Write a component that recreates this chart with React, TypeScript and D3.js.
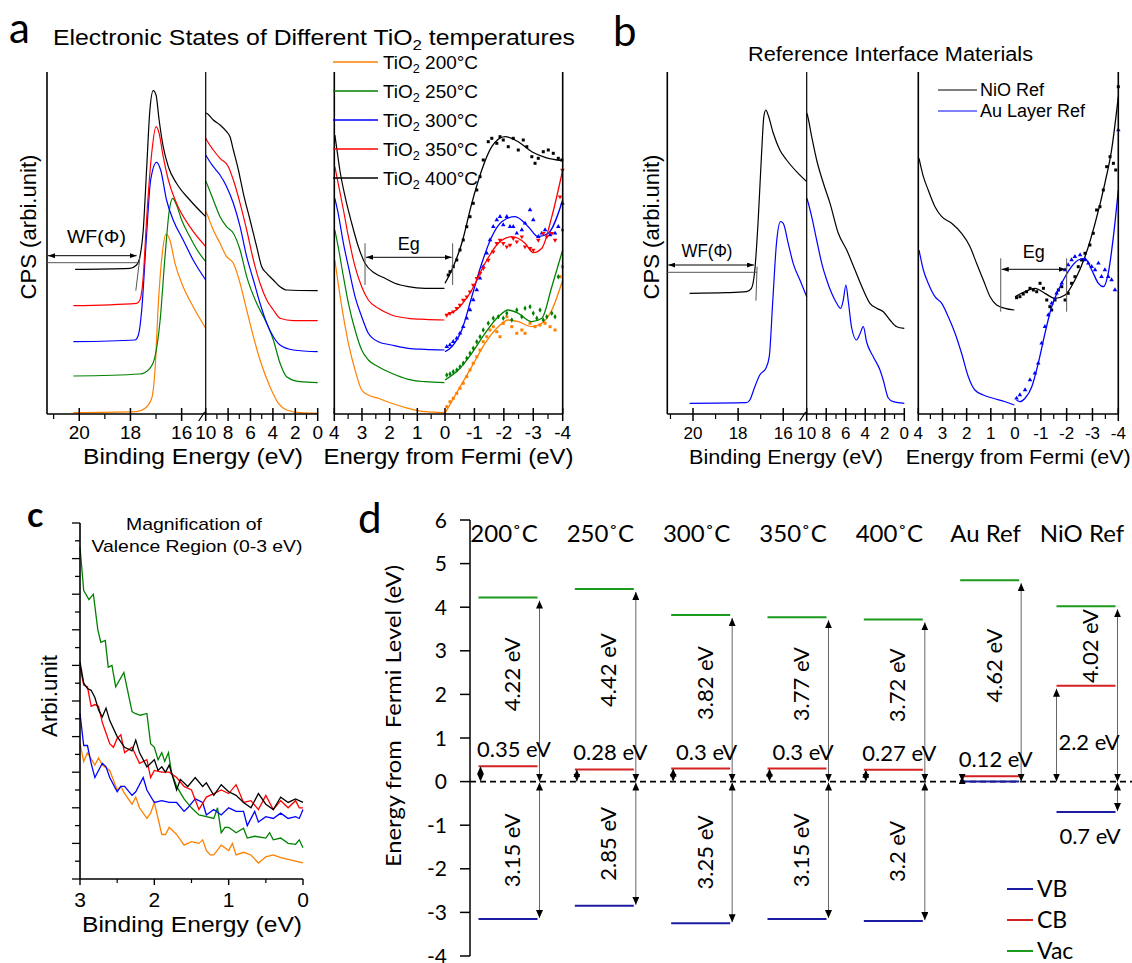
import React from 'react';
import * as d3 from 'd3';

type P = [number, number];

const SANS = '"Liberation Sans", Arial, Helvetica, sans-serif';
const CAL = 'Lato, "Noto Sans", sans-serif';

// ---------- panel a : TiO2 spectra (x = eV, y = arbitrary counts) ----------
const tempNames = ['200', '250', '300', '350', '400'];
const tempColors = ['#ff8000', '#008000', '#0000ff', '#ff0000', '#000000'];

// secondary electron cut-off (binding energy)
const aCut200: P[] = [[20.23, 1.3], [17.76, 2.3], [17.43, 5.7], [17.17, 15.7], [17.04, 44], [16.91, 110.7], [16.74, 164], [16.61, 180], [16.46, 174], [16.26, 150.7], [15.94, 127.3], [15.55, 107.3], [15.06, 85.7]];
const aCut250: P[] = [[20.23, 38], [17.63, 40], [17.24, 45.7], [17.04, 57.3], [16.84, 94], [16.65, 157.3], [16.48, 204], [16.35, 215.7], [16.2, 209], [16.0, 194], [15.68, 177.3], [15.35, 162.3], [15.06, 152.3]];
const aCut300: P[] = [[20.23, 72.3], [17.82, 74], [17.69, 79], [17.56, 104], [17.39, 170.7], [17.21, 234], [16.98, 251.7], [16.82, 244], [16.59, 214], [16.33, 194], [15.94, 174], [15.55, 154], [15.06, 134]];
const aCut350: P[] = [[20.23, 108.3], [17.76, 110.7], [17.63, 114], [17.5, 137.3], [17.37, 194], [17.17, 260.7], [17.0, 287.3], [16.88, 280.7], [16.72, 257.3], [16.52, 234], [16.2, 210.7], [15.68, 187.3], [15.06, 167.3]];
const aCut400: P[] = [[20.16, 144.7], [18.02, 145.7], [17.76, 149], [17.63, 157.3], [17.5, 184], [17.37, 244], [17.24, 304], [17.11, 323.3], [17.0, 319], [16.88, 294], [16.72, 267.3], [16.52, 247.3], [16.2, 230.7], [15.68, 214], [15.06, 197.3]];

// valence band 10-0 eV
const aVal200: P[] = [[10, 203], [9.91, 200.7], [9.32, 184], [8.72, 170.7], [8.13, 157.3], [7.53, 150.7], [6.93, 130.7], [6.34, 104], [5.74, 77.3], [5.15, 54], [4.26, 27.3], [3.51, 10.7], [2.77, 4], [1.58, 1.3], [0, 0.7]];
const aVal250: P[] = [[10, 233], [9.91, 230.7], [9.32, 214], [8.72, 197.3], [8.13, 187.3], [7.53, 180.7], [6.93, 164], [6.34, 137.3], [5.45, 110.7], [4.55, 90.7], [3.96, 74], [3.36, 50.7], [2.77, 37.3], [1.58, 32.3], [0, 31.3]];
const aVal300: P[] = [[10, 259], [9.91, 257.3], [9.32, 247.3], [8.72, 239], [8.13, 227.3], [7.53, 210.7], [6.93, 187.3], [6.34, 157.3], [5.74, 134], [5.15, 110.7], [4.55, 90.7], [3.96, 77.3], [3.36, 69], [2.17, 64], [0, 62.3]];
const aVal350: P[] = [[10, 276], [9.91, 274], [9.32, 264], [8.72, 255.7], [7.98, 247.3], [7.53, 234], [6.93, 210.7], [6.34, 184], [5.74, 154], [5.15, 130.7], [4.55, 114], [3.96, 104], [3.36, 95.7], [2.17, 93.3], [0, 93.3]];
const aVal400: P[] = [[10, 301], [9.91, 300.7], [9.32, 294], [8.72, 289], [8.13, 282.3], [7.83, 277.3], [7.53, 264], [7.08, 244], [6.64, 220.7], [6.04, 194], [5.45, 167.3], [5.0, 147.3], [4.55, 140.7], [3.96, 134], [3.36, 127.3], [2.77, 124], [0, 123.3]];

// energy from Fermi, valence side (4 -> 0)
const aVb200: P[] = [[3.98, 154], [3.86, 130.7], [3.67, 97.3], [3.49, 70.7], [3.25, 44], [3.01, 24], [2.77, 19], [2.41, 15.7], [1.93, 10.7], [1.33, 5.7], [0.72, 2.3], [0.02, 1.3]];
const aVb250: P[] = [[3.98, 184], [3.86, 167.3], [3.67, 137.3], [3.49, 110.7], [3.25, 84], [3.01, 64], [2.77, 54], [2.41, 47.3], [1.93, 40.7], [1.33, 34.7], [0.72, 32.3], [0.02, 31.3]];
const aVb300: P[] = [[3.98, 215.7], [3.86, 200.7], [3.67, 170.7], [3.49, 147.3], [3.25, 117.3], [3.01, 97.3], [2.77, 80.7], [2.41, 72.3], [1.93, 69], [1.33, 65.7], [0.72, 64.7], [0.02, 64]];
const aVb350: P[] = [[3.98, 247.3], [3.86, 230.7], [3.67, 204], [3.49, 177.3], [3.25, 147.3], [3.01, 127.3], [2.77, 114], [2.41, 105.7], [1.93, 99], [1.33, 95.7], [0.72, 94.7], [0.02, 94]];
const aVb400: P[] = [[3.98, 279], [3.92, 267.3], [3.8, 244], [3.61, 217.3], [3.37, 190.7], [3.13, 167.3], [2.89, 150.7], [2.53, 140.7], [2.17, 135.7], [1.81, 130.7], [1.33, 127.3], [0.72, 125.7], [0.02, 125.7]];

// conduction side fits (0 -> -4)
const aFit200: P[] = [[0, 0.7], [-0.45, 24], [-0.91, 47.3], [-1.36, 70.7], [-1.81, 87.3], [-2.15, 94], [-2.49, 92.3], [-2.95, 87.3], [-3.29, 90.7], [-3.63, 104], [-4, 134]];
const aFit250: P[] = [[0, 34], [-0.45, 44], [-0.91, 60.7], [-1.36, 80.7], [-1.81, 97.3], [-2.15, 104], [-2.49, 100.7], [-2.95, 92.3], [-3.29, 95.7], [-3.63, 127.3], [-4, 164]];
const aFit300: P[] = [[0, 62.3], [-0.23, 67.3], [-0.57, 84], [-0.91, 117.3], [-1.25, 150.7], [-1.59, 177.3], [-1.93, 192.3], [-2.38, 197.3], [-2.83, 187.3], [-3.17, 177.3], [-3.51, 180.7], [-4, 214]];
const aFit350: P[] = [[0, 99], [-0.45, 105.7], [-0.91, 124], [-1.36, 150.7], [-1.81, 170.7], [-2.27, 177.3], [-2.72, 170.7], [-3.0, 161.3], [-3.29, 165.7], [-3.63, 197.3], [-4, 244]];
const aFit400: P[] = [[0, 130.7], [-0.23, 144], [-0.57, 170.7], [-0.91, 210.7], [-1.25, 244], [-1.59, 267.3], [-2.04, 277.3], [-2.49, 272.3], [-2.95, 262.3], [-3.4, 256.7], [-4, 253.3]];

// measured points on the conduction side
const aDots200: P[] = [[-0.06, 7.3], [-0.17, 12.3], [-0.28, 15.7], [-0.4, 20.7], [-0.51, 25.7], [-0.62, 30.7], [-0.74, 37.3], [-0.85, 44], [-0.96, 50.7], [-1.08, 57.3], [-1.19, 64], [-1.3, 72.3], [-1.42, 77.3], [-1.53, 84], [-1.64, 87.3], [-1.76, 82.3], [-1.87, 77.3], [-1.98, 90.7], [-2.1, 97.3], [-2.27, 87.3], [-2.44, 80.7], [-2.61, 84], [-2.72, 80.7], [-2.89, 90.7], [-3.06, 87.3], [-3.23, 89], [-3.4, 90.7], [-3.57, 87.3], [-3.74, 84], [-3.91, 137.3], [-3.99, 147.3]];
const aDots250: P[] = [[-0.06, 39], [-0.17, 40], [-0.28, 42.3], [-0.4, 44], [-0.51, 47.3], [-0.62, 50.7], [-0.74, 55.7], [-0.85, 60.7], [-0.96, 65.7], [-1.08, 72.3], [-1.19, 77.3], [-1.3, 84], [-1.47, 90.7], [-1.64, 95.7], [-1.81, 97.3], [-1.98, 95.7], [-2.1, 100.7], [-2.27, 94], [-2.44, 104], [-2.61, 97.3], [-2.72, 105.7], [-2.89, 107.3], [-3.0, 100.7], [-3.12, 95.7], [-3.23, 104], [-3.34, 94], [-3.46, 97.3], [-3.63, 100.7], [-3.74, 97.3], [-3.85, 137.3], [-3.99, 184]];
const aDots300: P[] = [[-0.06, 67.3], [-0.17, 69], [-0.28, 72.3], [-0.4, 75.7], [-0.51, 80.7], [-0.62, 87.3], [-0.74, 95.7], [-0.85, 104], [-0.96, 114], [-1.08, 124], [-1.19, 135.7], [-1.3, 147.3], [-1.42, 160.7], [-1.53, 174], [-1.64, 187.3], [-1.76, 194], [-1.87, 197.3], [-1.98, 189], [-2.1, 197.3], [-2.21, 187.3], [-2.32, 187.3], [-2.44, 180.7], [-2.61, 184], [-2.72, 190.7], [-2.89, 204], [-3.0, 194], [-3.17, 177.3], [-3.29, 180.7], [-3.4, 184], [-3.57, 179], [-3.74, 180.7], [-3.85, 187.3], [-3.99, 210.7]];
const aDots350: P[] = [[-0.06, 99], [-0.17, 100.7], [-0.28, 102.3], [-0.4, 105.7], [-0.51, 109], [-0.62, 114], [-0.74, 117.3], [-0.85, 122.3], [-0.96, 129], [-1.08, 135.7], [-1.19, 140.7], [-1.3, 145.7], [-1.47, 154], [-1.64, 162.3], [-1.76, 170.7], [-1.87, 174], [-1.98, 170.7], [-2.1, 167.3], [-2.21, 169], [-2.32, 175.7], [-2.44, 172.3], [-2.61, 177.3], [-2.72, 167.3], [-2.89, 165.7], [-3.0, 164], [-3.17, 174], [-3.34, 180.7], [-3.46, 177.3], [-3.63, 180.7], [-3.74, 174], [-3.91, 217.3], [-3.99, 244]];
const aDots400: P[] = [[-0.11, 139], [-0.17, 142.3], [-0.28, 147.3], [-0.4, 154], [-0.51, 164], [-0.62, 174], [-0.74, 187.3], [-0.85, 197.3], [-0.96, 210.7], [-1.08, 224], [-1.19, 237.3], [-1.3, 254], [-1.47, 272.3], [-1.59, 275.7], [-1.76, 270.7], [-1.87, 277.3], [-1.98, 274], [-2.15, 267.3], [-2.32, 275.7], [-2.49, 264], [-2.66, 274], [-2.78, 267.3], [-2.95, 257.3], [-3.06, 250.7], [-3.17, 255.7], [-3.34, 262.3], [-3.51, 264], [-3.68, 260.7], [-3.85, 255.7], [-3.97, 254]];

// ---------- panel b : reference materials ----------
const refNames = ['NiO Ref', 'Au Layer Ref'];
const refColors = ['#000000', '#0000ff'];
const bCutNiO: P[] = [[20.15, 120.7], [18.52, 121.3], [17.63, 122.3], [17.41, 125.7], [17.26, 144], [17.11, 194], [16.96, 260.7], [16.86, 297.3], [16.77, 304], [16.67, 299], [16.44, 280.7], [16.15, 264], [15.85, 254], [15.41, 242.3], [14.96, 232.3]];
const bCutAu: P[] = [[20.15, 10.7], [17.63, 11.3], [17.48, 14], [17.26, 27.3], [17.04, 39], [16.77, 45.7], [16.62, 57.3], [16.47, 110.7], [16.3, 170.7], [16.12, 192.3], [16.0, 190.7], [15.78, 170.7], [15.56, 150.7], [15.26, 134], [14.96, 117.3]];
const bValNiO: P[] = [[10, 301], [9.93, 299], [9.49, 277.3], [8.98, 254], [8.29, 230.7], [7.61, 210.7], [6.76, 180.7], [5.9, 164], [5.05, 144], [4.2, 124], [3.52, 110.7], [2.83, 105.7], [2.15, 102.3], [1.47, 94], [0.78, 87.3], [0, 85.7]];
const bValAu: P[] = [[10, 216], [9.93, 214], [9.49, 197.3], [8.98, 174], [8.46, 150.7], [7.95, 134], [7.44, 120.7], [6.93, 110.7], [6.52, 105.7], [6.25, 114], [5.98, 129], [5.73, 112], [5.39, 86], [4.89, 74], [4.55, 80], [4.2, 87.3], [3.86, 72], [3.17, 57], [2.49, 44], [2.16, 34], [1.64, 16], [1.13, 12.3], [0, 10.7]];
const bVbNiO: P[] = [[3.97, 255.7], [3.79, 237.3], [3.59, 224], [3.31, 207.3], [3.03, 197.3], [2.62, 190.7], [2.21, 180.7], [1.86, 167.3], [1.59, 150.7], [1.31, 134], [1.03, 117.3], [0.76, 109], [0.41, 105.7], [0.03, 104]];
const bVbAu: P[] = [[3.97, 164], [3.79, 144], [3.59, 130.7], [3.31, 117.3], [3.03, 110.7], [2.76, 97.3], [2.48, 80.7], [2.21, 60.7], [1.93, 37.3], [1.66, 24], [1.31, 19], [0.9, 15.7], [0.41, 12.3], [0.03, 9]];
const bFitNiO: P[] = [[0, 117.3], [-0.39, 122.3], [-0.77, 125.7], [-1.16, 120.7], [-1.55, 115.7], [-1.94, 119], [-2.32, 134], [-2.71, 157.3], [-3.1, 190.7], [-3.48, 230.7], [-3.74, 264], [-4, 317.3]];
const bFitAu: P[] = [[-0.06, 14], [-0.19, 12.3], [-0.39, 15.7], [-0.65, 27.3], [-0.9, 50.7], [-1.16, 80.7], [-1.42, 107.3], [-1.68, 124], [-1.94, 137.3], [-2.19, 147.3], [-2.45, 154], [-2.71, 155.7], [-2.97, 144], [-3.23, 130.7], [-3.42, 127.3], [-3.61, 140.7], [-3.81, 177.3], [-4, 224]];
const bDotsNiO: P[] = [[-0.06, 116.3], [-0.19, 117.3], [-0.32, 120], [-0.45, 122.3], [-0.58, 125.7], [-0.71, 124], [-0.84, 122.3], [-0.97, 130.7], [-1.1, 125.7], [-1.23, 114], [-1.35, 107.3], [-1.42, 104], [-1.55, 114], [-1.68, 124], [-1.81, 127.3], [-1.94, 114], [-2.06, 120.7], [-2.19, 130.7], [-2.32, 137.3], [-2.45, 147.3], [-2.58, 154], [-2.71, 160.7], [-2.9, 169], [-3.03, 180.7], [-3.16, 204], [-3.29, 207.3], [-3.42, 224], [-3.55, 247.3], [-3.68, 257.3], [-3.81, 250.7], [-3.9, 244], [-4.0, 327.3]];
const bDotsAu: P[] = [[-0.06, 15.7], [-0.19, 19], [-0.39, 24], [-0.58, 34], [-0.77, 40.7], [-0.9, 50.7], [-1.03, 70.7], [-1.16, 87.3], [-1.29, 99], [-1.42, 110.7], [-1.61, 120.7], [-1.81, 130.7], [-1.94, 144], [-2.06, 149], [-2.19, 154], [-2.32, 157.3], [-2.52, 159], [-2.71, 154], [-2.84, 150.7], [-2.97, 147.3], [-3.1, 144], [-3.23, 150.7], [-3.35, 137.3], [-3.48, 144], [-3.61, 137.3], [-3.74, 134], [-3.87, 124], [-4.0, 284]];

// ---------- panel c : valence region 0-3 eV ----------
const c200: P[] = [[3, 7.6], [2.95, 6.6], [2.9, 7.1], [2.8, 6.4], [2.75, 6.8], [2.7, 6.4], [2.6, 6.1], [2.5, 5.0], [2.45, 5.2], [2.4, 4.8], [2.3, 4.2], [2.25, 4.6], [2.2, 4.0], [2.1, 3.4], [2.05, 3.7], [2.0, 4.3], [1.9, 2.5], [1.85, 2.5], [1.8, 2.9], [1.7, 2.5], [1.6, 1.9], [1.5, 2.1], [1.4, 2.0], [1.35, 2.2], [1.3, 1.6], [1.25, 1.35], [1.2, 1.35], [1.1, 1.9], [1.0, 1.6], [0.95, 2.0], [0.9, 1.35], [0.8, 1.5], [0.7, 1.35], [0.6, 0.9], [0.5, 1.25], [0.4, 1.35], [0.3, 1.2], [0.2, 1.1], [0.1, 1.0], [0.0, 0.9]];
const c250: P[] = [[3, 18.65], [2.95, 16.2], [2.88, 15.7], [2.82, 16], [2.76, 14], [2.72, 13.3], [2.66, 13.4], [2.62, 11.9], [2.57, 12], [2.52, 10.8], [2.41, 11.6], [2.3, 9.4], [2.26, 9.3], [2.19, 9.2], [2.1, 9.3], [2.05, 7.6], [2.0, 7.4], [1.95, 6.7], [1.9, 7.1], [1.86, 6.6], [1.81, 7.1], [1.77, 6.0], [1.7, 5.2], [1.6, 4.5], [1.5, 4.0], [1.4, 3.6], [1.3, 3.5], [1.2, 3.4], [1.15, 4.0], [1.1, 2.6], [1.05, 2.9], [1.0, 2.9], [0.95, 2.75], [0.9, 2.6], [0.8, 2.85], [0.75, 2.3], [0.65, 2.4], [0.5, 2.3], [0.45, 2.6], [0.4, 2.2], [0.3, 2.3], [0.2, 2.0], [0.1, 1.95], [0.05, 2.2], [0.0, 1.75]];
const c300: P[] = [[3, 9.3], [2.95, 7.5], [2.9, 7.5], [2.85, 6.5], [2.8, 5.7], [2.7, 6.5], [2.65, 6.3], [2.6, 5.7], [2.5, 4.9], [2.45, 5.2], [2.4, 5.2], [2.3, 4.7], [2.25, 4.9], [2.15, 5.7], [2.1, 5.0], [2.0, 4.3], [1.9, 4.4], [1.8, 4.3], [1.7, 4.3], [1.6, 3.8], [1.55, 4.0], [1.45, 4.5], [1.35, 4.3], [1.3, 3.6], [1.2, 3.9], [1.1, 3.6], [1.0, 4.0], [0.9, 3.8], [0.8, 3.8], [0.75, 3.0], [0.65, 3.8], [0.6, 3.2], [0.5, 3.5], [0.4, 3.4], [0.3, 3.7], [0.2, 3.4], [0.1, 3.5], [0.05, 3.4], [0.0, 3.9]];
const c350: P[] = [[3, 11.9], [2.95, 10.9], [2.9, 10.8], [2.85, 9.7], [2.8, 9.8], [2.75, 9.7], [2.7, 8.8], [2.65, 8.2], [2.6, 7.6], [2.55, 7.4], [2.5, 7.9], [2.45, 8.1], [2.4, 7.1], [2.3, 7.4], [2.2, 6.5], [2.1, 6.7], [2.05, 5.7], [2.0, 6.1], [1.9, 6.0], [1.8, 6.0], [1.7, 5.7], [1.6, 5.2], [1.5, 5.0], [1.4, 3.9], [1.3, 4.6], [1.2, 4.8], [1.1, 5.0], [1.0, 4.8], [0.9, 5.3], [0.8, 4.3], [0.7, 4.4], [0.6, 3.9], [0.5, 4.7], [0.4, 3.9], [0.3, 4.4], [0.2, 4.0], [0.1, 4.4], [0.05, 4.0], [0.0, 4.0]];
const c400: P[] = [[3, 12.2], [2.95, 11.0], [2.9, 10.7], [2.85, 10.6], [2.8, 10.2], [2.75, 9.5], [2.7, 9.1], [2.65, 9.6], [2.6, 8.9], [2.5, 8.0], [2.4, 7.4], [2.3, 7.2], [2.25, 7.8], [2.2, 7.1], [2.1, 6.3], [2.0, 6.7], [1.95, 6.1], [1.9, 6.3], [1.85, 6.0], [1.8, 6.4], [1.7, 5.0], [1.65, 5.6], [1.55, 5.2], [1.45, 5.7], [1.35, 5.2], [1.3, 5.4], [1.2, 4.7], [1.1, 5.3], [1.0, 4.9], [0.9, 4.7], [0.8, 4.3], [0.7, 4.0], [0.6, 4.8], [0.5, 4.2], [0.4, 3.9], [0.3, 4.6], [0.2, 4.3], [0.1, 4.5], [0.0, 4.3]];

// ---------- panel d : energy level diagram ----------
const dCols = ['200˚C', '250˚C', '300˚C', '350˚C', '400˚C', 'Au Ref', 'NiO Ref'];
const dVac = [4.22, 4.42, 3.82, 3.77, 3.72, 4.62, 4.02];
const dCb = [0.35, 0.28, 0.3, 0.3, 0.27, 0.12, 2.2];
const dVb = [-3.15, -2.85, -3.25, -3.15, -3.2, 0, -0.7];
const dVacText = ['4.22 eV', '4.42 eV', '3.82 eV', '3.77 eV', '3.72 eV', '4.62 eV', '4.02 eV'];
const dCbText = ['0.35 eV', '0.28 eV', '0.3 eV', '0.3 eV', '0.27 eV', '0.12 eV', '2.2 eV'];
const dVbText = ['3.15 eV', '2.85 eV', '3.25 eV', '3.15 eV', '3.2 eV', '', '0.7 eV'];
const dLegend = ['VB', 'CB', 'Vac'];
const dColors = { VB: '#1c1ca3', CB: '#d42222', Vac: '#1b9a1b' };

const range = (a: number, b: number, s: number) => d3.range(a, b + s / 2, s).map(v => +v.toFixed(2));

function Ticks({ sc, majors, minors, y, size }: any) {
  return (
    <g>
      {majors.map((v: number) => <line key={'M' + v} x1={sc(v)} x2={sc(v)} y1={y - 6} y2={y + 7} stroke="#000" strokeWidth={1.5} />)}
      {minors.map((v: number) => <line key={'m' + v} x1={sc(v)} x2={sc(v)} y1={y} y2={y + 5} stroke="#000" strokeWidth={1.2} />)}
      {majors.map((v: number) => <text key={'t' + v} x={sc(v)} y={y + 25} textAnchor="middle" fontSize={size}>{String(v)}</text>)}
    </g>
  );
}

function SplitPanel({ x1, x2, x3, y, series, beX, beW, feW, tick, lab }: any) {
  const base = y.range()[0], top = y.range()[1];
  const mk = (xs: any) => d3.line<P>().x(d => xs(d[0])).y(d => y(d[1])).curve(d3.curveMonotoneX);
  const sym = (t: any) => d3.symbol().type(t).size(9)() as string;
  return (
    <g fontFamily={SANS}>
      {series.map((s: any) => (
        <g key={s.name}>
          <path d={mk(x1)(s.cut) as string} fill="none" stroke={s.color} strokeWidth={1.2} />
          <path d={mk(x2)(s.val) as string} fill="none" stroke={s.color} strokeWidth={1.2} />
          <path d={mk(x3)(s.vb) as string} fill="none" stroke={s.color} strokeWidth={1.2} />
          {s.dots.map((d: P, i: number) => (
            <path key={i} d={sym(s.sym)} fill={s.color}
              transform={`translate(${x3(d[0])},${y(d[1])})${s.flip ? ' rotate(180)' : ''}`} />
          ))}
          <path d={mk(x3)(s.fit) as string} fill="none" stroke={s.color} strokeWidth={1.3} />
        </g>
      ))}
      <line x1={x1.range()[0]} x2={x1.range()[0]} y1={top} y2={base} stroke="#000" strokeWidth={1.6} />
      <line x1={x2.range()[0]} x2={x2.range()[0]} y1={top} y2={base} stroke="#000" strokeWidth={1.2} />
      <line x1={x3.range()[0]} x2={x3.range()[0]} y1={top} y2={base} stroke="#000" strokeWidth={1.6} />
      <line x1={x3.range()[2]} x2={x3.range()[2]} y1={top} y2={base} stroke="#000" strokeWidth={1.6} />
      <line x1={x1.range()[0]} x2={x2.range()[1]} y1={base} y2={base} stroke="#000" strokeWidth={1.6} />
      <line x1={x3.range()[0]} x2={x3.range()[2]} y1={base} y2={base} stroke="#000" strokeWidth={1.6} />
      <line x1={x2.range()[0] - 7} x2={x2.range()[0] - 1} y1={base + 7} y2={base - 2} stroke="#000" strokeWidth={1.3} />
      <Ticks sc={x1} majors={[20, 18, 16]} minors={[21, 19, 17]} y={base} size={tick} />
      <Ticks sc={x2} majors={[10, 8, 6, 4, 2, 0]} minors={[9, 7, 5, 3, 1]} y={base} size={tick} />
      <Ticks sc={x3} majors={range(-4, 4, 1).reverse()} minors={[3.5, 2.5, 1.5, 0.5, -0.5, -1.5, -2.5, -3.5]} y={base} size={tick} />
      <text x={beX} y={464} textAnchor="middle" fontSize={lab} textLength={beW} lengthAdjust="spacingAndGlyphs">Binding Energy (eV)</text>
      <text x={(x3.range()[0] + x3.range()[2]) / 2} y={464} textAnchor="middle" fontSize={lab} textLength={feW} lengthAdjust="spacingAndGlyphs">Energy from Fermi (eV)</text>
    </g>
  );
}

function Gap({ xs, y, e1, e2, lo, hi, ya, ty }: any) {
  return (
    <g stroke="#555" strokeWidth={1}>
      <line x1={xs(e1)} x2={xs(e1)} y1={y(lo)} y2={y(hi)} />
      <line x1={xs(e2)} x2={xs(e2)} y1={y(lo)} y2={y(hi)} />
      <line x1={xs(e1) + 1} x2={xs(e2) - 1} y1={y(ya)} y2={y(ya)} stroke="#000" markerStart="url(#ah)" markerEnd="url(#ah)" />
      <text x={(xs(e1) + xs(e2)) / 2} y={y(ty)} textAnchor="middle" fontSize={18} stroke="none" fill="#000" fontFamily={SANS}>Eg</text>
    </g>
  );
}

function Wf({ xs, y, mid, ea, el, es1, es2, ya, yl, ys1, ys2, ty, w }: any) {
  const x0 = xs.range()[0];
  return (
    <g strokeWidth={1}>
      <line x1={x0 + 1} x2={xs(ea)} y1={y(ya)} y2={y(ya)} stroke="#000" markerStart="url(#ah)" markerEnd="url(#ah)" />
      <line x1={x0} x2={xs(el)} y1={y(yl)} y2={y(yl)} stroke="#555" />
      <line x1={xs(es1)} x2={xs(es2)} y1={y(ys1)} y2={y(ys2)} stroke="#555" />
      <text x={xs(mid)} y={y(ty)} textAnchor="middle" fontSize={19} fontFamily={SANS} textLength={w} lengthAdjust="spacingAndGlyphs">WF(Φ)</text>
    </g>
  );
}

export default function App() {
  // ---- panel a/b scales ----
  const yS = d3.scaleLinear().domain([0, 342]).range([414, 72]);
  const aX1 = d3.scaleLinear().domain([21.26, 15.06]).range([47, 205.7]);
  const aX2 = d3.scaleLinear().domain([10, 0]).range([205.7, 317.7]);
  const aX3 = d3.scaleLinear().domain([4, 0, -4]).range([334.3, 445, 562.7]);
  const bX1 = d3.scaleLinear().domain([21.14, 14.96]).range([667.3, 806.7]);
  const bX2 = d3.scaleLinear().domain([10, 0]).range([806.7, 904.3]);
  const bX3 = d3.scaleLinear().domain([4, 0, -4]).range([918.3, 1015, 1118.3]);

  const cuts = [aCut200, aCut250, aCut300, aCut350, aCut400];
  const vals = [aVal200, aVal250, aVal300, aVal350, aVal400];
  const vbs = [aVb200, aVb250, aVb300, aVb350, aVb400];
  const fits = [aFit200, aFit250, aFit300, aFit350, aFit400];
  const dots = [aDots200, aDots250, aDots300, aDots350, aDots400];
  const syms = [d3.symbolSquare, d3.symbolDiamond, d3.symbolTriangle, d3.symbolTriangle, d3.symbolSquare];
  const seriesA = tempNames.map((n, i) => ({
    name: n, color: tempColors[i], cut: cuts[i], val: vals[i], vb: vbs[i], fit: fits[i], dots: dots[i], sym: syms[i], flip: i === 3,
  }));
  const seriesB = [
    { name: refNames[0], color: refColors[0], cut: bCutNiO, val: bValNiO, vb: bVbNiO, fit: bFitNiO, dots: bDotsNiO, sym: d3.symbolSquare },
    { name: refNames[1], color: refColors[1], cut: bCutAu, val: bValAu, vb: bVbAu, fit: bFitAu, dots: bDotsAu, sym: d3.symbolTriangle },
  ];

  // ---- panel c ----
  const cX = d3.scaleLinear().domain([3, 0]).range([80, 303]);
  const cY = d3.scaleLinear().domain([0, 20]).range([879, 523]);
  const cLine = d3.line<P>().x(d => cX(d[0])).y(d => cY(d[1]));
  const cSeries = [c200, c250, c300, c350, c400];

  // ---- panel d ----
  const dY = d3.scaleLinear().domain([-4, 6]).range([956, 520]);
  const dX = d3.scalePoint<string>().domain(dCols).range([508, 1086]);
  const hw = 29.5;
  const legY = d3.scalePoint<string>().domain(dLegend).range([889, 951]);

  return (
    <svg width={1132} height={963} style={{ position: 'absolute', left: 0, top: 0, background: '#fff' }}>
      <defs>
        <marker id="ah" viewBox="0 0 7 5" refX={7} refY={2.5} markerWidth={7} markerHeight={5} markerUnits="userSpaceOnUse" orient="auto-start-reverse">
          <path d="M0,0L7,2.5L0,5z" fill="#000" />
        </marker>
        <marker id="ahd" viewBox="0 0 8 7" refX={8} refY={3.5} markerWidth={8} markerHeight={7} markerUnits="userSpaceOnUse" orient="auto-start-reverse">
          <path d="M0,0L8,3.5L0,7z" fill="#000" />
        </marker>
      </defs>

      {/* ===== panel a ===== */}
      <text x={9} y={43} fontSize={42} fontFamily={CAL}>a</text>
      <text x={53} y={45} fontSize={22} fontFamily={SANS} textLength={522} lengthAdjust="spacingAndGlyphs">
        Electronic States of Different TiO<tspan dy={5} fontSize={15}>2</tspan><tspan dy={-5}> temperatures</tspan>
      </text>
      <SplitPanel x1={aX1} x2={aX2} x3={aX3} y={yS} series={seriesA} beX={193} beW={220} feW={250} tick={19} lab={22} />
      <text transform="translate(36,227) rotate(-90)" textAnchor="middle" fontSize={22} fontFamily={SANS} textLength={145} lengthAdjust="spacingAndGlyphs">CPS (arbi.unit)</text>
      <Wf xs={aX1} y={yS} mid={19.33} ea={17.76} el={17.63} es1={17.63} es2={17.79} ya={158.3} yl={151.3} ys1={157} ys2={123.3} ty={170.7} w={59} />
      <Gap xs={aX3} y={yS} e1={2.89} e2={-0.26} lo={129} hi={170.7} ya={156.7} ty={164} />
      <g fontFamily={SANS}>
        {seriesA.map((s, i) => {
          const ly = 62 + i * 29;
          return (
            <g key={s.name}>
              <line x1={333} x2={378} y1={ly} y2={ly} stroke={s.color} strokeWidth={1.3} />
              <text x={383} y={ly + 6.5} fontSize={18} textLength={95} lengthAdjust="spacingAndGlyphs">
                TiO<tspan dy={4} fontSize={12}>2</tspan><tspan dy={-4}> {s.name}°C</tspan>
              </text>
            </g>
          );
        })}
      </g>

      {/* ===== panel b ===== */}
      <text x={613} y={46} fontSize={42} fontFamily={CAL}>b</text>
      <text x={748} y={61} fontSize={20} fontFamily={SANS} textLength={285} lengthAdjust="spacingAndGlyphs">Reference Interface Materials</text>
      <SplitPanel x1={bX1} x2={bX2} x3={bX3} y={yS} series={seriesB} beX={786} beW={194} feW={225} tick={17} lab={20} />
      <text transform="translate(659,227) rotate(-90)" textAnchor="middle" fontSize={22} fontFamily={SANS} textLength={145} lengthAdjust="spacingAndGlyphs">CPS (arbi.unit)</text>
      <Wf xs={bX1} y={yS} mid={19.38} ea={17.3} el={17.16} es1={17.16} es2={17.21} ya={149} yl={141.7} ys1={147.3} ys2={113.3} ty={157.3} w={51} />
      <Gap xs={bX3} y={yS} e1={0.59} e2={-2.0} lo={102.3} hi={155.7} ya={144.7} ty={156} />
      <g fontFamily={SANS}>
        {seriesB.map((s, i) => {
          const ly = 90 + i * 21;
          return (
            <g key={s.name}>
              <line x1={938} x2={977} y1={ly} y2={ly} stroke={s.color} strokeWidth={1.2} />
              <text x={980} y={ly + 6} fontSize={18}>{s.name}</text>
            </g>
          );
        })}
      </g>

      {/* ===== panel c ===== */}
      <g fontFamily={SANS}>
        <text x={27} y={527} fontSize={34} fontWeight={700} fontFamily={CAL}>c</text>
        <text x={194} y={530} textAnchor="middle" fontSize={17} textLength={136} lengthAdjust="spacingAndGlyphs">Magnification of</text>
        <text x={197} y={552} textAnchor="middle" fontSize={17} textLength={211} lengthAdjust="spacingAndGlyphs">Valence Region (0-3 eV)</text>
        {cSeries.map((s, i) => (
          <path key={i} d={cLine(s) as string} fill="none" stroke={tempColors[i]} strokeWidth={1.3} />
        ))}
        <line x1={cX(3)} x2={cX(3)} y1={cY(20)} y2={cY(0)} stroke="#000" strokeWidth={1.6} />
        <line x1={cX(3)} x2={cX(0)} y1={cY(0)} y2={cY(0)} stroke="#000" strokeWidth={1.6} />
        {d3.range(0, 21).map(v => (
          <line key={v} x1={cX(3) - (v % 2 === 0 ? 8 : 5)} x2={cX(3)} y1={cY(v)} y2={cY(v)} stroke="#000" strokeWidth={1.3} />
        ))}
        {[3, 2, 1, 0].map(v => (
          <g key={v}>
            <line x1={cX(v)} x2={cX(v)} y1={cY(0)} y2={cY(0) + 6} stroke="#000" strokeWidth={1.4} />
            <text x={cX(v)} y={907} textAnchor="middle" fontSize={21}>{v}</text>
          </g>
        ))}
        {[2.5, 1.5, 0.5].map(v => (
          <line key={v} x1={cX(v)} x2={cX(v)} y1={cY(0)} y2={cY(0) + 4} stroke="#000" strokeWidth={1.2} />
        ))}
        <text x={192} y={932} textAnchor="middle" fontSize={22} textLength={220} lengthAdjust="spacingAndGlyphs">Binding Energy (eV)</text>
        <text transform="translate(57,696) rotate(-90)" textAnchor="middle" fontSize={22} textLength={82} lengthAdjust="spacingAndGlyphs">Arbi.unit</text>
      </g>

      {/* ===== panel d ===== */}
      <g fontFamily={CAL}>
        <text x={358} y={533} fontSize={42}>d</text>
        <line x1={470} x2={470} y1={dY(6)} y2={dY(-4)} stroke="#000" strokeWidth={1.5} />
        {dY.ticks(10).map(v => (
          <g key={v}>
            <line x1={460} x2={470} y1={dY(v)} y2={dY(v)} stroke="#000" strokeWidth={1.5} />
            <text x={447} y={dY(v)} dy="0.36em" textAnchor="end" fontSize={21}>{String(v)}</text>
          </g>
        ))}
        <text transform="translate(401,716) rotate(-90)" textAnchor="middle" fontSize={21} textLength={302} lengthAdjust="spacingAndGlyphs" style={{ whiteSpace: 'pre' }}>Energy from  Fermi Level (eV)</text>
        <line x1={470} x2={1132} y1={dY(0)} y2={dY(0)} stroke="#000" strokeWidth={1.6} strokeDasharray="6,4" />
        {dCols.map((c, i) => {
          const cx = dX(c) as number;
          const xa = cx + hw + 2;
          const xl = cx - hw;
          const lo = dCb[i] > 1 ? dCb[i] : 0.7;
          return (
            <g key={c}>
              <text x={cx - 4} y={dY(5.5)} textAnchor="middle" fontSize={24}>{c}</text>
              <line x1={cx - hw} x2={cx + hw} y1={dY(dVac[i])} y2={dY(dVac[i])} stroke={dColors.Vac} strokeWidth={2} />
              <line x1={cx - hw} x2={cx + hw} y1={dY(dCb[i])} y2={dY(dCb[i])} stroke={dColors.CB} strokeWidth={2} />
              <line x1={cx - hw} x2={cx + hw} y1={dY(dVb[i])} y2={dY(dVb[i])} stroke={dColors.VB} strokeWidth={2} />
              <line x1={xa} x2={xa} y1={dY(0)} y2={dY(dVac[i]) + 3} stroke="#666" strokeWidth={1} markerStart="url(#ahd)" markerEnd="url(#ahd)" />
              {dVb[i] !== 0 && (
                <line x1={xa} x2={xa} y1={dY(0) + 1} y2={dY(dVb[i]) - 1} stroke="#666" strokeWidth={1} markerStart="url(#ahd)" markerEnd="url(#ahd)" />
              )}
              <line x1={dCb[i] > 1 ? xl : xl + 2} x2={dCb[i] > 1 ? xl : xl + 2} y1={dY(0)} y2={dY(dCb[i]) + (dCb[i] > 1 ? 3 : 0)} stroke="#666" strokeWidth={1} markerStart="url(#ahd)" markerEnd="url(#ahd)" />
              <text transform={`translate(${cx + 4},${dY((lo + dVac[i]) / 2)}) rotate(-90)`} dy="0.36em" textAnchor="middle" fontSize={22}>{dVacText[i]}</text>
              {dCb[i] > 1
                ? <text x={cx + 3} y={dY(dCb[i] / 3)} textAnchor="middle" fontSize={22}>{dCbText[i]}</text>
                : <text x={cx + 6} y={dY(dCb[i]) - 9} textAnchor="middle" fontSize={22}>{dCbText[i]}</text>}
              {dVb[i] < -1 && (
                <text transform={`translate(${cx + 4},${dY(dVb[i] / 2)}) rotate(-90)`} dy="0.36em" textAnchor="middle" fontSize={22}>{dVbText[i]}</text>
              )}
              {dVb[i] < 0 && dVb[i] >= -1 && (
                <text x={cx + 4} y={dY(dVb[i]) + 32} textAnchor="middle" fontSize={22}>{dVbText[i]}</text>
              )}
            </g>
          );
        })}
        {dLegend.map(k => (
          <g key={k}>
            <line x1={1007} x2={1033} y1={legY(k) as number} y2={legY(k) as number} stroke={(dColors as any)[k]} strokeWidth={2} />
            <text x={1037} y={(legY(k) as number) + 8} fontSize={23}>{k}</text>
          </g>
        ))}
      </g>
    </svg>
  );
}
